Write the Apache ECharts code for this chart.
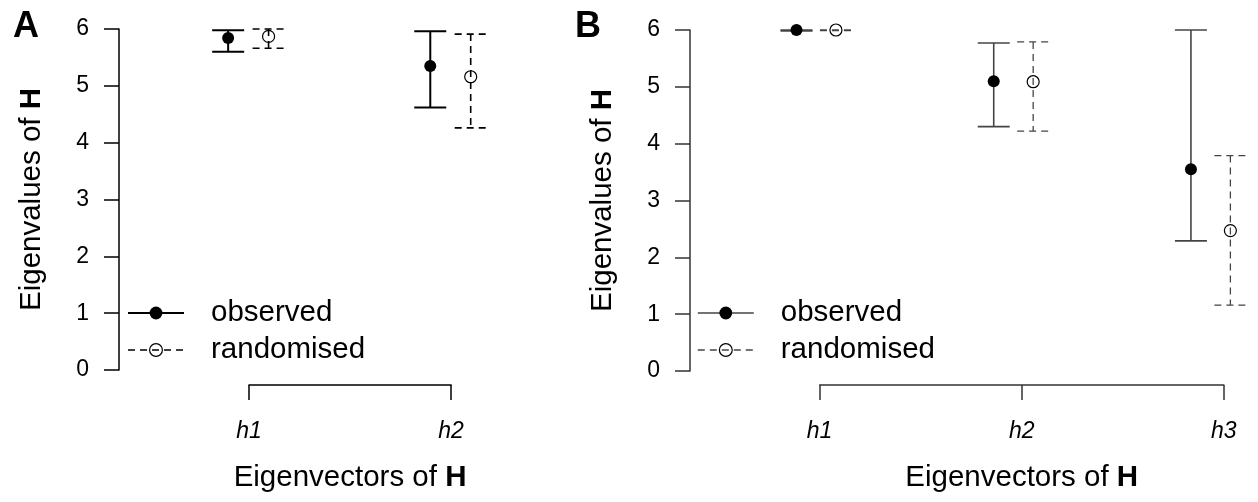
<!DOCTYPE html>
<html>
<head>
<meta charset="utf-8">
<script src="https://cdn.jsdelivr.net/npm/echarts@6/dist/echarts.min.js"></script>
<style>
html, body { margin: 0; padding: 0; background: #fff; }
#chart { width: 1258px; height: 502px; }
</style>
</head>
<body>
<div id="chart"></div>
<script>
// panel A
const vectorsA = ['h1', 'h2']
const observedA = [5.84, 5.35]
const observedLowA = [5.60, 4.62]
const observedHighA = [5.98, 5.96]
const randomisedA = [5.87, 5.16]
const randomisedLowA = [5.66, 4.26]
const randomisedHighA = [6.00, 5.91]

// panel B
const vectorsB = ['h1', 'h2', 'h3']
const observedB = [6.00, 5.10, 3.55]
const observedLowB = [5.985, 4.30, 2.29]
const observedHighB = [6.00, 5.77, 6.00]
const randomisedB = [6.00, 5.09, 2.47]
const randomisedLowB = [5.99, 4.22, 1.16]
const randomisedHighB = [6.00, 5.79, 3.79]

const FONT = '"Liberation Sans", Arial, Helvetica, sans-serif'
const DODGE = 0.1

const myChart = echarts.init(document.getElementById('chart'))

const grids = []
const xAxes = []
const yAxes = []
const series = []
const legends = []
const titles = []

const errorBars = (g, xs, lo, hi, color, lw, dashed) => ({
  type: 'custom',
  xAxisIndex: g,
  yAxisIndex: g,
  silent: true,
  clip: false,
  z: 2,
  data: xs.map((x, i) => [x, lo[i], hi[i]]),
  renderItem: (params, api) => {
    const top = api.coord([api.value(0), api.value(2)])
    const bot = api.coord([api.value(0), api.value(1)])
    const style = { stroke: color, lineWidth: lw, fill: null, lineDash: dashed ? [7, 5] : null }
    return {
      type: 'group',
      children: [
        { type: 'line', shape: { x1: top[0], y1: top[1], x2: bot[0], y2: bot[1] }, style },
        { type: 'line', shape: { x1: top[0] - 16, y1: top[1], x2: top[0] + 16, y2: top[1] }, style },
        { type: 'line', shape: { x1: bot[0] - 16, y1: bot[1], x2: bot[0] + 16, y2: bot[1] }, style }
      ]
    }
  }
})

const titleRich = {
  n: { fontSize: 29.5, fontFamily: FONT, color: '#000' },
  b: { fontSize: 29.5, fontFamily: FONT, color: '#000', fontWeight: 'bold' }
}

const addPanel = (p) => {
  const g = grids.length
  const cats = p.cats
  // data grid: y from 0 to 6, x is vector index
  grids.push({ left: p.left, top: p.top, width: p.width, height: 341 })
  xAxes.push({ gridIndex: g, type: 'value', min: 0.36, max: p.xMax, show: false })
  yAxes.push({
    gridIndex: g,
    type: 'value',
    min: 0,
    max: 6,
    interval: 1,
    splitLine: { show: false },
    axisLine: { show: true, lineStyle: { color: p.axisColor, width: 1.5 } },
    axisTick: { show: true, length: 15, lineStyle: { color: p.axisColor, width: 1.5 } },
    axisLabel: { color: '#000', fontSize: 23, fontFamily: FONT, margin: 30 },
    name: '{n|Eigenvalues of }{b|H}',
    nameLocation: 'middle',
    nameGap: 72,
    nameTextStyle: { rich: titleRich }
  })
  // bracket axis for eigenvectors, spanning first to last vector
  const g2 = g + 1
  grids.push({ left: p.hLeft, top: 300, width: 202.1 * (cats.length - 1), height: 85 })
  xAxes.push({
    gridIndex: g2,
    type: 'category',
    data: cats,
    boundaryGap: false,
    axisLine: { show: true, lineStyle: { color: p.axisColor, width: 1.5 } },
    axisTick: { show: true, length: 15, alignWithLabel: true, lineStyle: { color: p.axisColor, width: 1.5 } },
    axisLabel: { color: '#000', fontSize: 23, fontFamily: FONT, fontStyle: 'italic', margin: 35, interval: 0 },
    name: '{n|Eigenvectors of }{b|H}',
    nameLocation: 'middle',
    nameGap: 78,
    nameTextStyle: { rich: titleRich }
  })
  yAxes.push({ gridIndex: g2, type: 'value', show: false })

  const xsObs = cats.map((c, i) => i + 1 - DODGE)
  const xsRnd = cats.map((c, i) => i + 1 + DODGE)
  series.push(errorBars(g, xsObs, p.obsLo, p.obsHi, p.lineColor, p.lw, false))
  series.push(errorBars(g, xsRnd, p.rndLo, p.rndHi, p.lineColor, p.lw * 0.8, true))
  series.push({
    name: 'observed',
    type: 'line',
    xAxisIndex: g,
    yAxisIndex: g,
    data: xsObs.map((x, i) => [x, p.obs[i]]),
    symbol: 'circle',
    symbolSize: 12,
    lineStyle: { width: 0, opacity: 0 },
    itemStyle: { color: '#000' },
    emphasis: { disabled: true },
    silent: true,
    z: 3
  })
  series.push({
    name: 'randomised',
    type: 'line',
    xAxisIndex: g,
    yAxisIndex: g,
    data: xsRnd.map((x, i) => [x, p.rnd[i]]),
    symbol: 'circle',
    symbolSize: 12,
    lineStyle: { width: 0, opacity: 0 },
    itemStyle: { color: 'transparent', borderColor: '#000', borderWidth: 1.2 },
    emphasis: { disabled: true },
    silent: true,
    z: 3
  })
  legends.push({
    orient: 'vertical',
    left: p.legendLeft,
    top: 293,
    itemWidth: 56,
    itemHeight: 16,
    itemGap: 7,
    selectedMode: false,
    textStyle: { fontSize: 29.5, fontFamily: FONT, color: '#000', padding: [0, 0, 0, 22] },
    data: [
      {
        name: 'observed',
        lineStyle: { color: p.lineColor, width: p.lw, type: 'solid', opacity: 1 },
        itemStyle: { color: '#000' }
      },
      {
        name: 'randomised',
        lineStyle: { color: p.lineColor, width: p.lw * 0.8, type: [7, 5], opacity: 1 },
        itemStyle: { color: 'transparent', borderColor: '#000', borderWidth: 1.2 }
      }
    ]
  })
  titles.push({
    text: p.label,
    left: p.labelLeft,
    top: 4,
    textStyle: { fontSize: 36, fontWeight: 'bold', fontFamily: FONT, color: '#000' }
  })
}

addPanel({
  label: 'A', labelLeft: 8,
  cats: vectorsA, left: 119, top: 29, width: 380, xMax: 2.24, hLeft: 249,
  obs: observedA, obsLo: observedLowA, obsHi: observedHighA,
  rnd: randomisedA, rndLo: randomisedLowA, rndHi: randomisedHighA,
  lineColor: '#000', axisColor: '#000', lw: 2, legendLeft: 122
})
addPanel({
  label: 'B', labelLeft: 570,
  cats: vectorsB, left: 690, top: 30, width: 582, xMax: 3.24, hLeft: 819.6,
  obs: observedB, obsLo: observedLowB, obsHi: observedHighB,
  rnd: randomisedB, rndLo: randomisedLowB, rndHi: randomisedHighB,
  lineColor: '#444', axisColor: '#333', lw: 1.6, legendLeft: 692
})

myChart.setOption({
  animation: false,
  backgroundColor: '#fff',
  title: titles,
  legend: legends,
  grid: grids,
  xAxis: xAxes,
  yAxis: yAxes,
  series: series
})
</script>
</body>
</html>
